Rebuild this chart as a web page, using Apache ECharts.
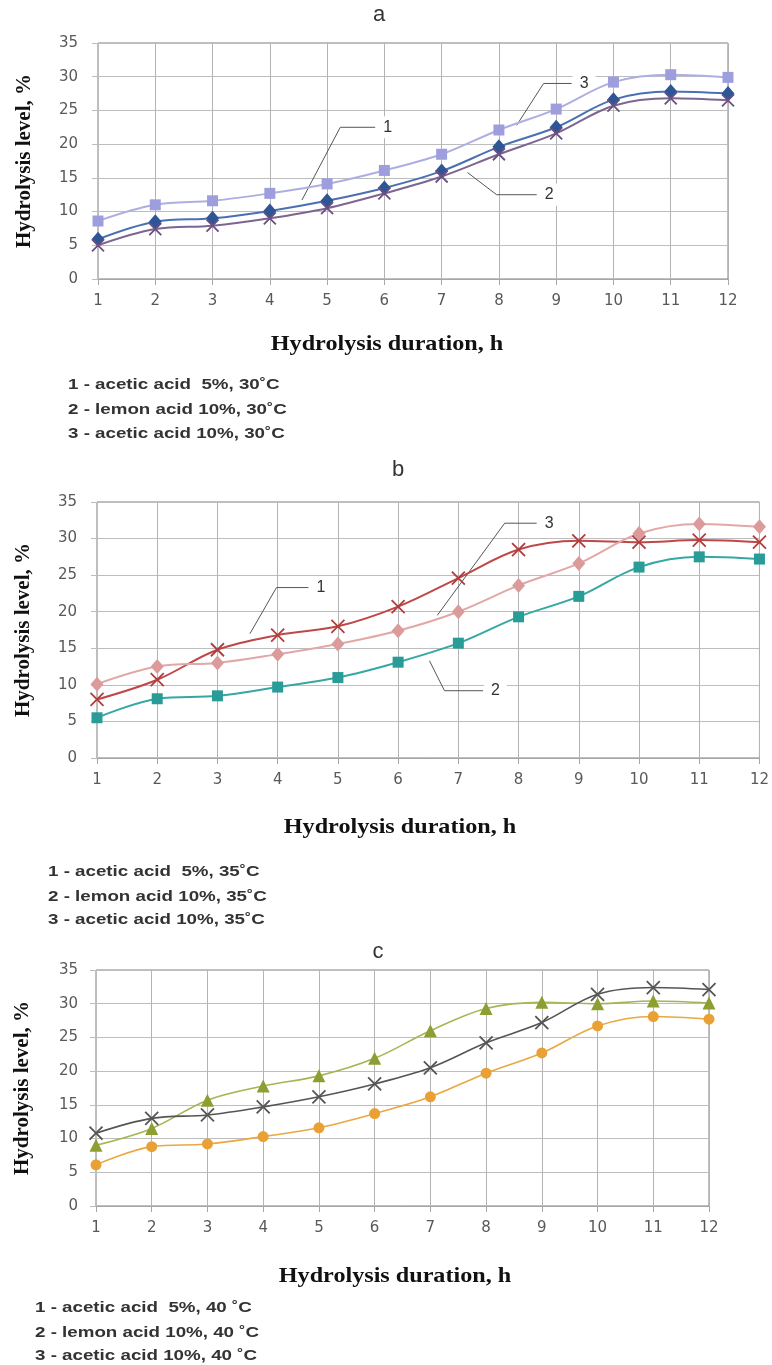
<!DOCTYPE html>
<html>
<head>
    <meta charset="utf-8">
    <title>Hydrolysis level</title>
    <script src="https://cdn.jsdelivr.net/npm/echarts@6/dist/echarts.min.js"></script>
    <style>
        html, body { margin: 0; background: #fff; }
        #main { width: 772px; height: 1365px; }
    </style>
</head>
<body>
    <div id="main"></div>
    <script type="text/javascript">
        // hours on x axis
        var hours = [1, 2, 3, 4, 5, 6, 7, 8, 9, 10, 11, 12];
        var yTicks = [0, 5, 10, 15, 20, 25, 30, 35];

        // panel a, 30 C
        var aAcetic5 = [5.9, 8.5, 9.0, 10.1, 11.6, 13.5, 16.0, 19.6, 22.5, 26.6, 27.8, 27.5];
        var aLemon10 = [5.0, 7.4, 7.9, 9.0, 10.5, 12.7, 15.2, 18.5, 21.6, 25.7, 26.8, 26.5];
        var aAcetic10 = [8.6, 11.0, 11.6, 12.7, 14.1, 16.1, 18.5, 22.1, 25.2, 29.2, 30.3, 29.9];
        // panel b, 35 C
        var bAcetic5 = [8.0, 10.7, 14.8, 16.8, 18.0, 20.7, 24.6, 28.5, 29.7, 29.5, 29.8, 29.5];
        var bLemon10 = [5.5, 8.1, 8.5, 9.7, 11.0, 13.1, 15.7, 19.3, 22.1, 26.1, 27.5, 27.2];
        var bAcetic10 = [10.1, 12.5, 13.0, 14.2, 15.6, 17.4, 20.0, 23.6, 26.6, 30.7, 32.0, 31.6];
        // panel c, 40 C
        var cCross = [10.8, 13.0, 13.5, 14.7, 16.2, 18.1, 20.5, 24.2, 27.2, 31.4, 32.4, 32.1];
        var cTriangle = [9.0, 11.5, 15.7, 17.8, 19.3, 21.9, 26.0, 29.3, 30.2, 30.0, 30.4, 30.1];
        var cCircle = [6.1, 8.8, 9.2, 10.3, 11.6, 13.7, 16.2, 19.7, 22.7, 26.7, 28.1, 27.7];

        // callout leaders (hour, level) and their numbers
        var aCallouts = [
            { text: '1', pts: [[4.56, 11.7], [5.23, 22.5], [5.84, 22.5]] },
            { text: '2', pts: [[7.45, 15.8], [7.96, 12.5], [8.66, 12.5]] },
            { text: '3', pts: [[8.31, 22.8], [8.78, 29.0], [9.27, 29.0]] }
        ];
        var bCallouts = [
            { text: '1', pts: [[3.54, 17.0], [3.98, 23.3], [4.51, 23.3]] },
            { text: '2', pts: [[6.52, 13.3], [6.77, 9.2], [7.41, 9.2]] },
            { text: '3', pts: [[6.65, 19.5], [7.77, 32.1], [8.30, 32.1]] }
        ];

        var panelTitles = ['a', 'b', 'c'];
        var xTitle = 'Hydrolysis duration, h';
        var yTitle = 'Hydrolysis level, %';
        var legendA = ['1 - acetic acid  5%, 30˚C', '2 - lemon acid 10%, 30˚C', '3 - acetic acid 10%, 30˚C'];
        var legendB = ['1 - acetic acid  5%, 35˚C', '2 - lemon acid 10%, 35˚C', '3 - acetic acid 10%, 35˚C'];
        var legendC = ['1 - acetic acid  5%, 40 ˚C', '2 - lemon acid 10%, 40 ˚C', '3 - acetic acid 10%, 40 ˚C'];

        var CROSS = 'path://M0,0L10,10M10,0L0,10';

        var myChart = echarts.init(document.getElementById('main'));

        function pairs(ys) {
            return hours.map(function (h, i) { return [h, ys[i]]; });
        }

        function curve(name, ys, g, color, lineColor, symbol, size, width) {
            var cross = symbol === CROSS;
            return {
                name: name, type: 'line', xAxisIndex: g, yAxisIndex: g,
                data: pairs(ys), smooth: 0.35, symbol: symbol, symbolSize: size,
                lineStyle: { color: lineColor, width: width },
                itemStyle: { color: color, borderColor: color, borderWidth: cross ? 1.8 : 0 },
                emphasis: { disabled: true }, z: 3
            };
        }

        function callout(c, g) {
            return {
                type: 'line', xAxisIndex: g, yAxisIndex: g, data: c.pts, symbol: 'none',
                lineStyle: { color: '#555', width: 1 }, silent: true, z: 2,
                endLabel: {
                    show: true, distance: 1, formatter: c.text,
                    color: '#333', fontFamily: 'Liberation Sans', fontSize: 16,
                    backgroundColor: '#fff', padding: [3, 7]
                }
            };
        }

        var grids = [
            { left: 98, top: 43, width: 630, height: 236 },
            { left: 97, top: 502, width: 663, height: 256 },
            { left: 96, top: 970, width: 613, height: 236 }
        ];
        var yLabelMargin = [20, 20, 18];

        var xAxes = [], yAxes = [];
        grids.forEach(function (gr, i) {
            gr.show = true;
            gr.borderColor = '#7f7f7f';
            gr.borderWidth = 1;
            xAxes.push({
                gridIndex: i, type: 'value', min: 1, max: 12, interval: 1,
                axisLine: { lineStyle: { color: '#a6a6a6' } },
                axisTick: { show: true, length: 6, lineStyle: { color: '#a6a6a6' } },
                axisLabel: { color: '#595959', fontFamily: 'DejaVu Sans', fontSize: 15, margin: 15 },
                splitLine: { show: true, lineStyle: { color: '#b4b4b4' } }
            });
            yAxes.push({
                gridIndex: i, type: 'value', min: yTicks[0], max: yTicks[yTicks.length - 1], interval: 5,
                name: yTitle, nameLocation: 'middle', nameGap: 63,
                nameTextStyle: { fontFamily: 'Liberation Serif', fontWeight: 'bold', fontSize: 21, color: '#111' },
                axisLine: { show: true, lineStyle: { color: '#bdbdbd' } },
                axisTick: { show: true, length: 6, lineStyle: { color: '#bdbdbd' } },
                axisLabel: { color: '#595959', fontFamily: 'DejaVu Sans', fontSize: 15, margin: yLabelMargin[i] },
                splitLine: { show: true, lineStyle: { color: '#bdbdbd' } }
            });
        });

        var series = [
            curve('acetic acid 5%, 30C', aAcetic5, 0, '#2e5596', '#4a70b2', 'diamond', [13, 15], 2),
            curve('lemon acid 10%, 30C', aLemon10, 0, '#6b4f80', '#7d6592', CROSS, 12, 2),
            curve('acetic acid 10%, 30C', aAcetic10, 0, '#9e9edf', '#aeaee2', 'rect', 11, 2),
            curve('acetic acid 5%, 35C', bAcetic5, 1, '#b23c3c', '#bf4747', CROSS, 13, 2),
            curve('lemon acid 10%, 35C', bLemon10, 1, '#2a9c98', '#35a8a3', 'rect', 11, 2),
            curve('acetic acid 10%, 35C', bAcetic10, 1, '#dc9b9b', '#e2a7a7', 'diamond', [13, 15], 2),
            curve('acetic acid 10%, 40C', cTriangle, 2, '#8f9e33', '#a3b652', 'triangle', 13, 1.6),
            curve('acetic acid 5%, 40C', cCross, 2, '#555555', '#555555', CROSS, 13, 1.6),
            curve('lemon acid 10%, 40C', cCircle, 2, '#e9a135', '#eaa742', 'circle', 11, 1.6)
        ];
        aCallouts.forEach(function (c) { series.push(callout(c, 0)); });
        bCallouts.forEach(function (c) { series.push(callout(c, 1)); });

        // texts: panel letters, x titles, legends
        var graphics = [];
        var titlePos = [[379, 15], [398, 470], [378, 952]];
        panelTitles.forEach(function (t, i) {
            graphics.push({ type: 'text', x: titlePos[i][0], y: titlePos[i][1],
                style: { text: t, fill: '#333', font: '22px "Liberation Sans"', align: 'center', verticalAlign: 'middle' } });
        });
        var xTitlePos = [[387, 345], [400, 828], [395, 1277]];
        xTitlePos.forEach(function (p) {
            graphics.push({ type: 'text', x: p[0], y: p[1], scaleX: 1.15,
                style: { text: xTitle, fill: '#111', font: 'bold 21px "Liberation Serif"', align: 'center', verticalAlign: 'middle' } });
        });
        var legends = [legendA, legendB, legendC];
        var legendX = [68, 48, 35];
        var legendY = [[385, 410, 434], [872, 897, 920], [1308, 1333, 1356]];
        legends.forEach(function (lines, i) {
            lines.forEach(function (s, j) {
                graphics.push({ type: 'text', x: legendX[i], y: legendY[i][j], scaleX: 1.25,
                    style: { text: s, fill: '#333', font: 'bold 15px "Liberation Sans"', verticalAlign: 'middle' } });
            });
        });

        var option = {
            animation: false,
            grid: grids,
            xAxis: xAxes,
            yAxis: yAxes,
            series: series,
            graphic: graphics
        };
        myChart.setOption(option);
    </script>
</body>
</html>
